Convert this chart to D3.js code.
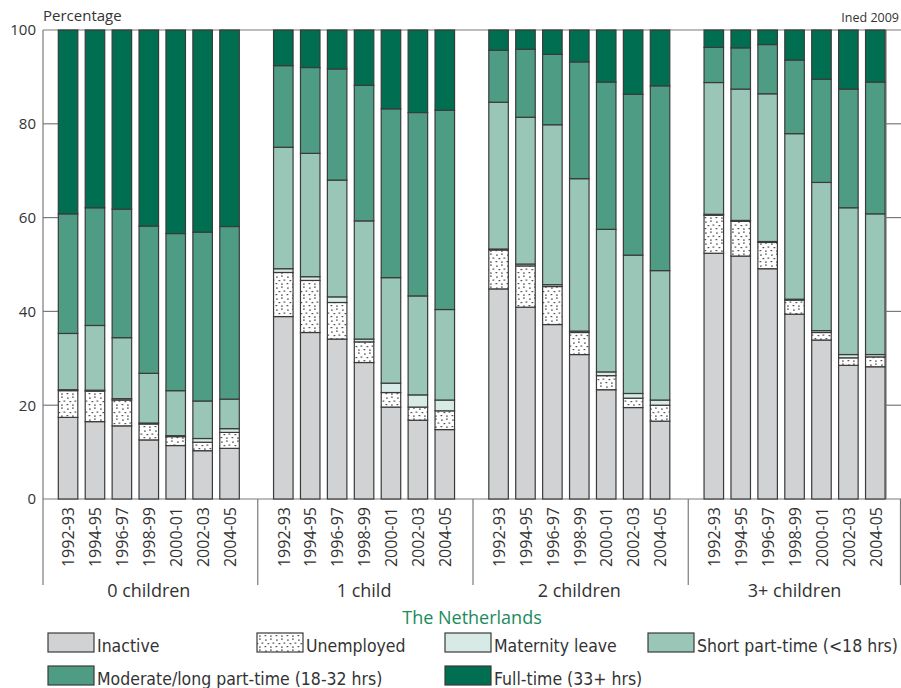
<!DOCTYPE html>
<html>
<head>
<meta charset="utf-8">
<script src="https://cdn.jsdelivr.net/npm/d3@7"></script>
<style>
  html, body { margin: 0; padding: 0; background: #fff; }
  svg { display: block; }
  text { font-family: "Open Sans", "Noto Sans", sans-serif; fill: #333; }
  .legend text { font-family: "DejaVu Sans Condensed", "DejaVu Sans", sans-serif; font-stretch: condensed; }
</style>
</head>
<body>
<svg id="chart" width="901" height="688"></svg>
<script>
// ---- Data ----
const groups = ["0 children", "1 child", "2 children", "3+ children"];
const periods = ["1992-93", "1994-95", "1996-97", "1998-99", "2000-01", "2002-03", "2004-05"];
const seriesNames = ["Inactive", "Unemployed", "Maternity leave", "Short part-time (<18 hrs)",
                     "Moderate/long part-time (18-32 hrs)", "Full-time (33+ hrs)"];
const yTicks = [0, 20, 40, 60, 80, 100];

// values in %, order: group by group, 7 periods each
const inactive   = [17.4,16.5,15.6,12.6,11.4,10.3,10.8,  38.9,35.5,34.1,29.1,19.6,16.8,14.8,  44.8,40.9,37.2,30.8,23.3,19.5,16.6,  52.4,51.8,49.1,39.4,33.9,28.5,28.2];
const unemployed = [5.7,6.5,5.5,3.4,1.9,1.8,3.4,        9.4,11.1,7.8,4.4,3.1,2.8,4.0,         8.3,8.8,8.1,4.7,3.0,2.0,3.4,         8.1,7.4,5.6,3.0,1.6,1.6,2.1];
const maternity  = [0.2,0.2,0.3,0.2,0.2,0.8,0.8,        0.8,0.8,1.2,0.6,2.0,2.6,2.3,         0.2,0.4,0.4,0.3,0.8,1.0,1.1,         0.2,0.2,0.2,0.2,0.4,0.7,0.5];
const shortPT    = [12.0,13.8,13.0,10.6,9.6,8.0,6.3,    25.9,26.3,24.9,25.2,22.5,21.1,19.3,  31.3,31.3,34.1,32.5,30.4,29.5,27.6,  28.1,28.0,31.5,35.3,31.6,31.3,30.0];
const moderatePT = [25.5,25.1,27.4,31.4,33.5,36.0,36.8, 17.4,18.3,23.7,28.9,36.0,39.1,42.5,  11.1,14.5,15.0,24.9,31.4,34.3,39.4,  7.5,8.8,10.5,15.7,22.0,25.3,28.1];
const fullTime   = [39.2,37.9,38.2,41.8,43.4,43.1,41.9, 7.6,8.0,8.3,11.8,16.8,17.6,17.1,      4.3,4.1,5.2,6.8,11.1,13.7,11.9,      3.7,3.8,3.1,6.4,10.5,12.6,11.1];

const colors = ["#d1d2d4", "url(#dots)", "#d8eae5", "#9ac6b8", "#4f9c85", "#006f51"];

// ---- Build table ----
const keys = ["inactive", "unemployed", "maternity", "shortPT", "moderatePT", "fullTime"];
const seriesArrays = [inactive, unemployed, maternity, shortPT, moderatePT, fullTime];
const rows = [];
groups.forEach((g, gi) => periods.forEach((p, pi) => {
  const r = { group: g, period: p };
  keys.forEach((k, ki) => r[k] = seriesArrays[ki][gi * periods.length + pi]);
  rows.push(r);
}));
const stacked = d3.stack().keys(keys)(rows);

// ---- Layout ----
const svg = d3.select("#chart");
const plotLeft = 43, plotRight = 886, plotTop = 30, plotBottom = 499, frameBottom = 585;

const y = d3.scaleLinear().domain([0, 100]).range([plotBottom, plotTop]);
const xGroup = d3.scaleBand().domain(groups).range([plotLeft, 904]).padding(0);
const xPeriod = d3.scaleBand().domain(periods).range([15.3, 196.3]).paddingInner(0.275).paddingOuter(0);

// pattern
const defs = svg.append("defs");
const pat = defs.append("pattern").attr("id", "dots").attr("patternUnits", "userSpaceOnUse")
  .attr("width", 11).attr("height", 11);
pat.append("rect").attr("width", 11).attr("height", 11).attr("fill", "#fff");
[[1,1.5],[6,0.5],[3.5,5],[8.5,4.5],[0.5,8],[6,8.5]].forEach(([px, py]) =>
  pat.append("rect").attr("x", px).attr("y", py).attr("width", 1.8).attr("height", 1.2).attr("fill", "#555"));

// frame lines
const frame = svg.append("g").attr("stroke", "#7a7a7a").attr("stroke-width", 1.2).attr("fill", "none");
frame.append("line").attr("x1", plotLeft).attr("x2", 901).attr("y1", plotTop).attr("y2", plotTop);
frame.append("line").attr("x1", plotLeft).attr("x2", 901).attr("y1", plotBottom).attr("y2", plotBottom);
frame.append("line").attr("x1", plotLeft).attr("x2", plotLeft).attr("y1", plotTop).attr("y2", frameBottom);
frame.append("line").attr("x1", plotRight).attr("x2", plotRight).attr("y1", plotTop).attr("y2", plotBottom);
groups.slice(1).forEach(g => frame.append("line")
  .attr("x1", xGroup(g) - 0.5).attr("x2", xGroup(g) - 0.5).attr("y1", plotBottom).attr("y2", frameBottom));
frame.append("line").attr("x1", 900.5).attr("x2", 900.5).attr("y1", plotBottom).attr("y2", frameBottom);

// left axis (inner ticks)
const yAxis = svg.append("g").attr("transform", `translate(${plotLeft},0)`)
  .call(d3.axisLeft(y).tickValues(yTicks).tickSize(0).tickPadding(7));
yAxis.select(".domain").remove();
yAxis.selectAll("text").attr("font-size", 15).attr("fill", "#333").style("font-family", "'Open Sans', sans-serif");
yTicks.filter(t => t > 0 && t < 100).forEach(t => {
  frame.append("line").attr("x1", plotLeft).attr("x2", plotLeft + 15).attr("y1", y(t)).attr("y2", y(t));
  frame.append("line").attr("x1", plotRight).attr("x2", 901).attr("y1", y(t)).attr("y2", y(t));
});

// bars
const layer = svg.append("g").selectAll("g").data(stacked).join("g")
  .attr("fill", (d, i) => colors[i]);
layer.selectAll("rect").data(d => d).join("rect")
  .attr("x", d => xGroup(d.data.group) + xPeriod(d.data.period))
  .attr("width", xPeriod.bandwidth())
  .attr("y", d => y(d[1]))
  .attr("height", d => y(d[0]) - y(d[1]))
  .attr("stroke", "#3a3a3a").attr("stroke-width", 1.2);

// period labels
groups.forEach(g => {
  svg.append("g").selectAll("text").data(periods).join("text")
    .attr("transform", p => `translate(${xGroup(g) + xPeriod(p) + xPeriod.bandwidth() / 2 + 0.5},507) rotate(-90)`)
    .attr("text-anchor", "end").attr("dy", "0.36em")
    .attr("font-size", 16).text(p => p);
});

// group labels
svg.append("g").selectAll("text").data(groups).join("text")
  .attr("x", g => xGroup(g) + (xPeriod.range()[0] + xPeriod.range()[1]) / 2)
  .attr("y", 597).attr("text-anchor", "middle").attr("font-size", 18).text(g => g);

// titles
svg.append("text").attr("x", 43).attr("y", 21).attr("font-size", 15).text("Percentage");
svg.append("text").attr("x", 899).attr("y", 22).attr("text-anchor", "end").attr("font-size", 12.5).text("Ined 2009");
svg.append("text").attr("x", 472).attr("y", 624).attr("text-anchor", "middle").attr("font-size", 18)
  .style("fill", "#1b8a5c").text("The Netherlands");

// legend
const legendPos = [[48, 633], [257, 633], [445, 633], [648, 633], [48, 666], [445, 666]];
const lg = svg.append("g").attr("class", "legend");
seriesNames.forEach((name, i) => {
  const [lx, ly] = legendPos[i];
  lg.append("rect").attr("x", lx).attr("y", ly).attr("width", 46).attr("height", 19)
    .attr("fill", colors[i]).attr("stroke", "#3a3a3a").attr("stroke-width", 1.2);
  lg.append("text").attr("x", lx + 49).attr("y", ly + 19).attr("font-size", 17.5).text(name);
});
</script>
</body>
</html>
